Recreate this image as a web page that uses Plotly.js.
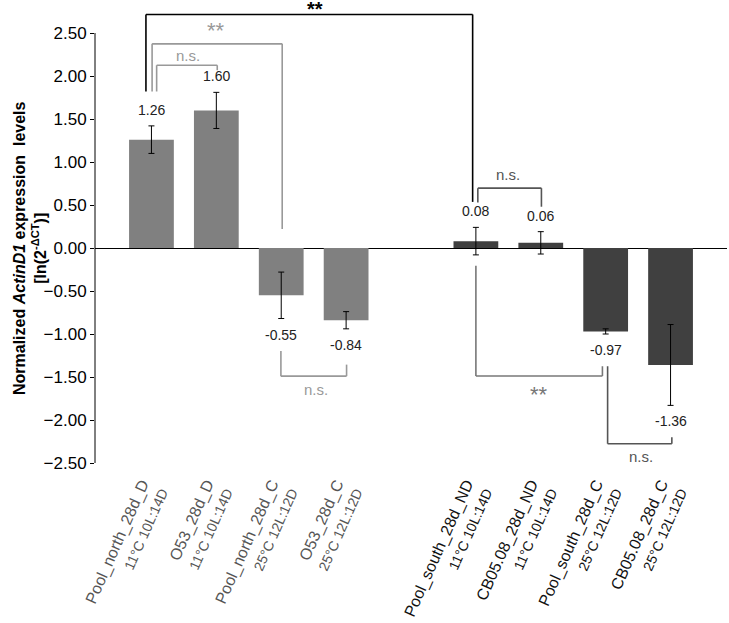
<!DOCTYPE html>
<html>
<head>
<meta charset="utf-8">
<script src="https://cdn.plot.ly/plotly-3.0.1.min.js"></script>
<style>html,body{margin:0;padding:0;background:#fff;} #chart{width:729px;height:623px;}</style>
</head>
<body>
<div id="chart"></div>
<script>
// ---- data ----
const categories = ['Pool_north_28d_D','O53_28d_D','Pool_north_28d_C','O53_28d_C',
                    'Pool_south_28d_ND','CB05.08_28d_ND','Pool_south_28d_C','CB05.08_28d_C'];
const conditions = ['11°C 10L:14D','11°C 10L:14D','25°C 12L:12D','25°C 12L:12D',
                    '11°C 10L:14D','11°C 10L:14D','25°C 12L:12D','25°C 12L:12D'];
const groups = ['north','north','north','north','south','south','south','south'];
const slots = [0,1,2,3,5,6,7,8];
const values = [1.26, 1.60, -0.55, -0.84, 0.08, 0.06, -0.97, -1.36];
const errors = [0.16, 0.21, 0.27, 0.10, 0.16, 0.13, 0.03, 0.47];
const yTicks = [-2.5,-2.0,-1.5,-1.0,-0.5,0,0.5,1.0,1.5,2.0,2.5];

// significance comparisons: bar indices, label, and bracket levels
const comparisons = [
  {a:0, b:4, label:'**',  dxa:-0.085, dxb:-0.05, ya:1.82,  yh:2.716, yb:0.536, tx:2.52, ty:null,  color:'#000', tcolor:'#000', w:1.6, fs:20, bold:true},
  {a:0, b:2, label:'**',  dxa:0.01,   dxb:0.015, ya:1.82,  yh:2.374, yb:0.22,  tx:1.0,  ty:2.53,  color:'#999', tcolor:'#999', w:1.6, fs:22},
  {a:0, b:1, label:'n.s.',dxa:0.08,   dxb:0.014, ya:1.82,  yh:2.125, yb:2.067, tx:0.56, ty:2.24,  color:'#999', tcolor:'#999', w:1.6, fs:15},
  {a:4, b:5, label:'n.s.',dxa:0.03,   dxb:0.01,  ya:0.53,  yh:0.696, yb:0.48,  tx:5.5,  ty:0.86,  color:'#555', tcolor:'#555', w:1.6, fs:15},
  {a:2, b:3, label:'n.s.',dxa:-0.005, dxb:0.007, ya:-1.197,yh:-1.49, yb:-1.356,tx:2.54, ty:-1.64, color:'#999', tcolor:'#999', w:1.6, fs:15},
  {a:4, b:6, label:'**',  dxa:0.0,    dxb:-0.05, ya:-0.206,yh:-1.488,yb:-1.375,tx:5.98, ty:-1.70, color:'#777', tcolor:'#777', w:1.6, fs:22},
  {a:6, b:7, label:'n.s.',dxa:0.03,   dxb:0.02,  ya:-1.375,yh:-2.276,yb:-2.2,  tx:7.55, ty:-2.42, color:'#555', tcolor:'#555', w:1.6, fs:15}
];

const barColor = {north:'#808080', south:'#404040'};
const labelColor = {north:'#555555', south:'#111111'};
const FONT = 'Liberation Sans, Arial, sans-serif';

const tickText = categories.map((c,i) =>
  '<span style="color:'+labelColor[groups[i]]+'">'+c+'</span><br>' +
  '<span style="color:'+labelColor[groups[i]]+';font-size:14px">'+conditions[i]+'</span>');

const trace = {
  type:'bar',
  x: slots,
  y: values,
  width: 0.69,
  marker:{color: groups.map(g => barColor[g]), line:{width:0}},
  error_y:{type:'data', array: errors, visible:true, color:'#000', thickness:1, width:3},
  hoverinfo:'x+y'
};

const annotations = values.map((v,i) => ({
  x: slots[i], y: v >= 0 ? v + errors[i] : v - errors[i],
  xref:'x', yref:'y', text: v.toFixed(2), showarrow:false,
  yshift: v >= 0 ? 16 : -16,
  font:{family:FONT, size:14, color:'#222'}
}));

const shapes = [];
comparisons.forEach(c => {
  const xa = slots[c.a] + c.dxa, xb = slots[c.b] + c.dxb;
  const ln = {color:c.color, width:c.w};
  shapes.push({type:'line', xref:'x', yref:'y', x0:xa, x1:xa, y0:c.ya, y1:c.yh, line:ln});
  shapes.push({type:'line', xref:'x', yref:'y', x0:xa, x1:xb, y0:c.yh, y1:c.yh, line:ln});
  shapes.push({type:'line', xref:'x', yref:'y', x0:xb, x1:xb, y0:c.yh, y1:c.yb, line:ln});
  const ann = {x:c.tx, xref:'x', showarrow:false,
    text: c.bold ? '<b>'+c.label+'</b>' : c.label,
    font:{family:FONT, size:c.fs, color:c.tcolor}};
  if (c.ty === null) { ann.yref = 'paper'; ann.y = 1; ann.yanchor = 'top'; ann.yshift = 7; }
  else { ann.yref = 'y'; ann.y = c.ty; }
  annotations.push(ann);
});
// y axis line from -2.5 to 2.5
shapes.push({type:'line', xref:'paper', yref:'y', x0:0, x1:0, y0:yTicks[0], y1:yTicks[yTicks.length-1],
  line:{color:'#000', width:1}});

// y-axis title (two lines, rotated), centred on the zero line
annotations.push({
  xref:'paper', yref:'y', x:0, y:0, xanchor:'center', yanchor:'middle', xshift:-65,
  textangle:-90, showarrow:false,
  text:'<b>Normalized <i>ActinD1</i> expression  levels</b><br><b>[ln(2<sup>-ΔCT</sup>)]</b>',
  font:{family:FONT, size:16, color:'#000'}
});

const layout = {
  width:729, height:623,
  margin:{l:95, r:2, t:3, b:160},
  paper_bgcolor:'#fff', plot_bgcolor:'#fff',
  showlegend:false,
  font:{family:FONT, color:'#000'},
  xaxis:{
    range:[-0.87, 8.87],
    tickvals: slots, ticktext: tickText, tickangle:-66,
    showgrid:false, zeroline:false, showline:false, ticks:'',
    tickfont:{size:16, color:'#333'},
    ticklabelstandoff: 12
  },
  yaxis:{
    range:[-2.5, 2.849],
    tickvals: yTicks, tickformat:'.2f',
    ticks:'outside', ticklen:4, tickcolor:'#000', tickwidth:1,
    showgrid:false, showline:false,
    zeroline:true, zerolinecolor:'#000', zerolinewidth:1,
    tickfont:{size:17, color:'#000'}
  },
  shapes: shapes,
  annotations: annotations
};

Plotly.newPlot('chart', [trace], layout, {displayModeBar:false, staticPlot:true});
</script>
</body>
</html>
